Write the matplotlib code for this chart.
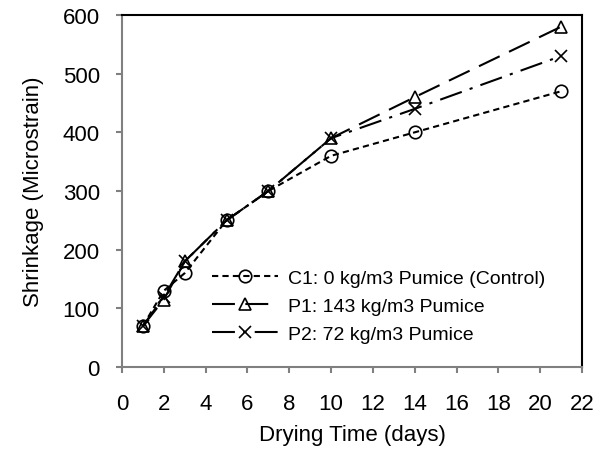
import matplotlib
matplotlib.use('Agg')
import matplotlib.pyplot as plt

plt.rcParams['font.family'] = ['Liberation Sans', 'DejaVu Sans']

days = [1, 2, 3, 5, 7, 10, 14, 21]
c1 = [70, 130, 160, 250, 300, 360, 400, 470]
p1 = [70, 115, 180, 250, 300, 390, 460, 580]
p2 = [70, 120, 180, 250, 300, 390, 440, 530]
labels = ['C1: 0 kg/m3 Pumice (Control)', 'P1: 143 kg/m3 Pumice', 'P2: 72 kg/m3 Pumice']

fig = plt.figure(figsize=(6.08, 4.52), dpi=100)
ax = fig.add_axes([122 / 608, 1 - 368 / 452, 460 / 608, 352 / 452])

ax.plot(days, c1, color='black', lw=1.5, dashes=(3, 2), marker='o', ms=9,
        mfc='none', mec='black', mew=1.2, label=labels[0])
ax.plot(days, p1, color='black', lw=1.5, dashes=(11, 5), marker='^', ms=9,
        mfc='none', mec='black', mew=1.2, label=labels[1])
ax.plot(days, p2, color='black', lw=1.5, dashes=(11, 4, 1.5, 4), marker='x', ms=8,
        mfc='none', mec='black', mew=1.2, label=labels[2])

ax.set_xlim(0, 22)
ax.set_ylim(0, 600)
ax.set_xticks(range(0, 23, 2))
ax.set_yticks(range(0, 601, 100))
ax.tick_params(axis='both', labelsize=16, direction='out', length=4, color='#808080', width=1.5)
ax.tick_params(axis='x', pad=15)
ax.tick_params(axis='y', pad=12)
ax.spines['left'].set_color('#808080')
ax.spines['bottom'].set_color('#808080')
for s in ax.spines.values():
    s.set_linewidth(1.5)
ax.spines['top'].set_color('black')
ax.spines['right'].set_color('black')

ax.set_xlabel('Drying Time (days)', fontsize=16, labelpad=7)
ax.set_ylabel('Shrinkage (Microstrain)', fontsize=16, labelpad=13)

ax.legend(loc='upper left', bbox_to_anchor=(212 / 608, 1 - 270 / 452),
          bbox_transform=fig.transFigure, frameon=False, fontsize=14,
          borderpad=0, borderaxespad=0,
          handlelength=3.4, handletextpad=0.5, labelspacing=0.55)

fig.savefig('out.png', dpi=100)
